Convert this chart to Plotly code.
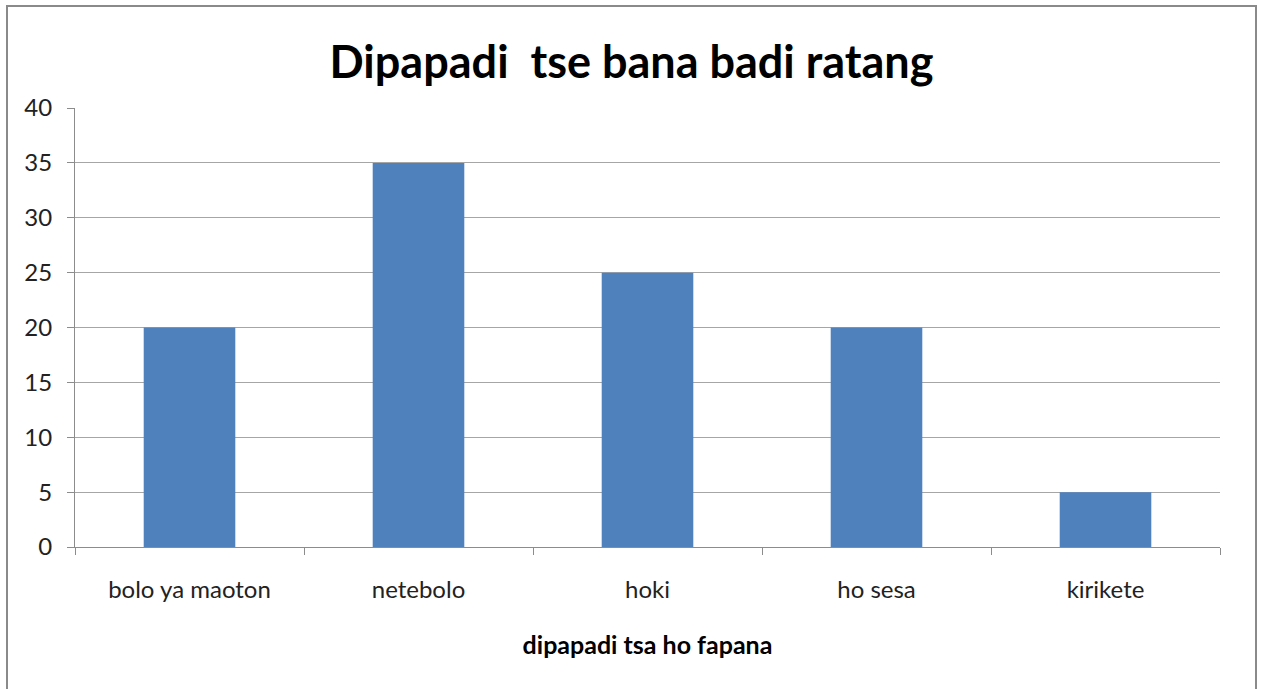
import plotly.graph_objects as go

categories = ["bolo ya maoton", "netebolo", "hoki", "ho sesa", "kirikete"]
values = [20, 35, 25, 20, 5]
y_ticks = [0, 5, 10, 15, 20, 25, 30, 35, 40]

font_family = "Lato, Open Sans, sans-serif"

fig = go.Figure(go.Bar(x=categories, y=values, marker_color="#4F81BD",
                       marker_line_width=0, width=0.4))

L, R, T, B = 75, 43, 108, 142
W, H = 1263, 689
pw, ph = W - L - R, H - T - B

fig.update_layout(
    width=W, height=H,
    margin=dict(l=L, r=R, t=T, b=B),
    paper_bgcolor="white", plot_bgcolor="white",
    showlegend=False,
    title=dict(text="<b>Dipapadi  tse bana badi ratang</b>", x=0.5, xanchor="center",
               y=1 - 62 / H, yanchor="middle",
               font=dict(family=font_family, size=45, color="black")),
    font=dict(family=font_family, color="#222"),
    xaxis=dict(
        showline=True, linecolor="#8c8c8c", linewidth=1,
        ticks="outside", tickcolor="#8c8c8c", ticklen=7, tickson="boundaries",
        tickfont=dict(size=24, color="#222"), ticklabelstandoff=21,
        title=dict(text="<b>dipapadi tsa ho fapana</b>", font=dict(size=25, color="black"), standoff=34),
        showgrid=False,
    ),
    yaxis=dict(
        range=[0, 40], tickvals=y_ticks,
        showline=True, linecolor="#8c8c8c", linewidth=1,
        ticks="outside", tickcolor="#8c8c8c", ticklen=7,
        tickfont=dict(size=24, color="#222"), ticklabelstandoff=10,
        showgrid=True, gridcolor="#a6a6a6", gridwidth=1,
        zeroline=False,
    ),
)

# chart border (decoration)
fig.add_shape(type="rect", xref="paper", yref="paper",
              x0=(7 - L) / pw, x1=(1256 - L) / pw,
              y0=(H - B - 700) / ph, y1=(H - B - 6) / ph,
              line=dict(color="#8a8a8a", width=2), fillcolor="rgba(0,0,0,0)", layer="below")

fig.write_html("out.html", config={"displayModeBar": False},
               post_script="document.body.style.margin='0px';")
